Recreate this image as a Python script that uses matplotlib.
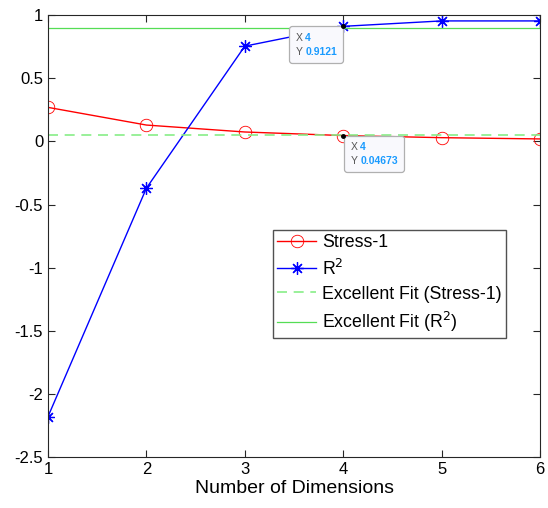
import numpy as np
import matplotlib
matplotlib.use("Agg")
import matplotlib.pyplot as plt
from matplotlib.offsetbox import TextArea, HPacker, AnnotationBbox

plt.rcParams['font.family'] = ['Liberation Sans', 'DejaVu Sans']

# Data
dims = [1, 2, 3, 4, 5, 6]
stress1 = [0.27, 0.13, 0.075, 0.04673, 0.03, 0.02]
r_squared = [-2.18, -0.37, 0.755, 0.9121, 0.955, 0.955]
stress_fit = 0.05
r2_fit = 0.9

fig = plt.figure(figsize=(5.48, 5.08), dpi=100)
ax = fig.add_axes([0.0876, 0.1004, 0.8978, 0.8696])

ax.plot(dims, stress1, color='red', marker='o', markerfacecolor='none',
        markersize=9, linewidth=1, markeredgewidth=0.6, label='Stress-1')
ax.plot(dims, r_squared, color='blue', marker=(8, 2, 0), markersize=9,
        linewidth=1, markeredgewidth=0.9, label='R$^2$')
ax.axhline(stress_fit, color='#88ee88', linestyle=(0, (6, 4)), linewidth=1.2,
           label='Excellent Fit (Stress-1)')
ax.axhline(r2_fit, color='#55dd55', linestyle='-', linewidth=0.9,
           label='Excellent Fit (R$^2$)')


# data tips like MATLAB
def datatip(x, y, ytxt, dx, dy):
    ax.plot(x, y, 'k.', markersize=5, zorder=7)
    lbl = TextArea('X\nY', textprops=dict(fontsize=7.5, color='#555555', linespacing=1.5))
    val = TextArea('%d\n%s' % (x, ytxt),
                   textprops=dict(fontsize=7.5, color='#1a9bff', fontweight='bold', linespacing=1.5))
    pack = HPacker(children=[lbl, val], pad=0, sep=2, align='top')
    ab = AnnotationBbox(pack, (x, y), xybox=(dx, dy), xycoords='data',
                        boxcoords='offset points', box_alignment=(0, 1), pad=0.45,
                        frameon=True, zorder=6,
                        bboxprops=dict(boxstyle='round,pad=0.45,rounding_size=0.2',
                                       fc='#f9f9fd', ec='#b0b0b0', lw=0.9))
    ax.add_artist(ab)


datatip(dims[3], r_squared[3], '0.9121', -34.4, -4.6)
datatip(dims[3], stress1[3], '0.04673', 5.3, -4.6)

ax.set_xlim(1, 6)
ax.set_ylim(-2.5, 1)
ax.set_xticks(dims)
ax.set_yticks(np.arange(-2.5, 1.01, 0.5))
ax.set_yticklabels(['-2.5', '-2', '-1.5', '-1', '-0.5', '0', '0.5', '1'])
ax.tick_params(direction='in', labelsize=12, top=True, right=True, length=5, color='#262626')
for s in ax.spines.values():
    s.set_color('#262626')
    s.set_linewidth(0.8)
ax.set_xlabel('Number of Dimensions', fontsize=14, labelpad=2)

ax.legend(loc='upper left', bbox_to_anchor=(0.457, 0.514), fontsize=12.8,
          frameon=True, fancybox=False, edgecolor='#262626', handlelength=2.2,
          borderpad=0.25, labelspacing=0.4, handletextpad=0.3, borderaxespad=0)

fig.savefig('out.png', dpi=100)
